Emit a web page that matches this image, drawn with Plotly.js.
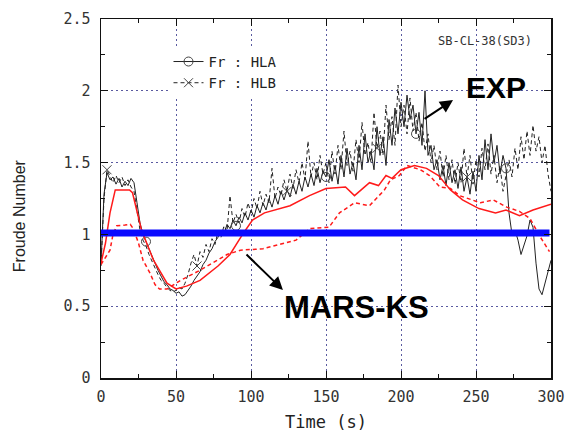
<!DOCTYPE html>
<html>
<head>
<meta charset="utf-8">
<script src="https://cdn.plot.ly/plotly-3.0.1.min.js"></script>
<style>
  html, body { margin: 0; padding: 0; background: #ffffff; }
  #chart { width: 571px; height: 432px; }
</style>
</head>
<body>
<div id="chart"></div>
<script>
// Froude number at the hot legs, test SB-CL-38 (SD3): experiment vs MARS-KS.

// Experimental records, sampled every 2 s from 0 to 300 s.
const EXP_STEP = 2;
const frHlaExp = [
  0.80,1.28,1.43,1.38,1.40,1.35,1.39,1.33,1.37,1.34,
  1.39,1.36,1.22,1.08,1.00,0.95,0.90,0.84,0.79,0.75,
  0.71,0.67,0.65,0.62,0.61,0.59,0.60,0.57,0.58,0.61,
  0.64,0.68,0.71,0.74,0.79,0.82,0.87,0.90,0.95,0.98,
  1.03,1.00,1.07,1.04,1.10,1.06,1.12,1.08,1.15,1.10,
  1.17,1.12,1.20,1.15,1.22,1.17,1.25,1.19,1.27,1.21,
  1.30,1.24,1.31,1.26,1.35,1.28,1.37,1.30,1.40,1.33,
  1.42,1.34,1.46,1.36,1.44,1.40,1.52,1.37,1.48,1.35,
  1.55,1.40,1.60,1.42,1.50,1.38,1.62,1.45,1.70,1.50,
  1.58,1.45,1.75,1.55,1.68,1.48,1.80,1.62,1.88,1.70,
  1.92,1.75,1.97,1.80,1.90,1.70,1.85,1.62,2.00,1.55,
  1.62,1.45,1.52,1.38,1.48,1.34,1.50,1.36,1.45,1.32,
  1.47,1.30,1.40,1.28,1.44,1.30,1.55,1.38,1.66,1.45,
  1.70,1.50,1.62,1.42,1.55,1.46,1.15,1.00,1.03,0.96,
  0.86,0.93,0.99,1.10,1.05,0.80,0.62,0.58,0.66,0.76,
  0.82
];
const frHlbExp = [
  0.78,1.25,1.45,1.40,1.36,1.41,1.36,1.40,1.34,1.38,
  1.33,1.30,1.15,1.03,0.96,0.92,0.86,0.81,0.76,0.72,
  0.68,0.66,0.63,0.61,0.60,0.61,0.63,0.62,0.66,0.72,
  0.80,0.86,0.78,0.88,0.84,0.93,0.88,0.97,0.93,1.02,
  0.98,1.06,1.02,1.27,1.08,1.14,1.08,1.18,1.12,1.22,
  1.15,1.25,1.18,1.30,1.20,1.28,1.22,1.46,1.25,1.33,
  1.27,1.38,1.30,1.42,1.32,1.45,1.36,1.50,1.38,1.65,
  1.40,1.50,1.38,1.55,1.42,1.50,1.36,1.58,1.42,1.62,
  1.45,1.72,1.48,1.58,1.44,1.66,1.50,1.78,1.55,1.64,
  1.50,1.85,1.60,1.72,1.55,1.90,1.66,1.82,1.62,2.04,
  1.75,1.90,1.70,1.95,1.72,1.85,1.65,1.78,1.58,1.70,
  1.50,1.62,1.45,1.58,1.40,1.55,1.38,1.52,1.35,1.50,
  1.36,1.60,1.40,1.55,1.35,1.52,1.40,1.60,1.45,1.63,
  1.42,1.55,1.36,1.48,1.30,1.42,1.52,1.40,1.60,1.45,
  1.68,1.52,1.72,1.55,1.76,1.58,1.68,1.50,1.62,1.42,
  1.30
];
const timeExp = frHlaExp.map((_, i) => i * EXP_STEP);

// Times carrying a symbol on each experimental curve.
const hlaSymbolTimes = [30, 90, 150, 210, 270];
const hlbSymbolTimes = [4, 64, 124, 184, 244];

// MARS-KS results.
const timeKsHla = [0,3,6,9.5,19,21,27,35,44,50,57,66,78,86,95,101,109,126,139,150,
                   163,169,179,185,190,194,200,209,217,225,233,241,252,263,270,279,288,298,300];
const frKsHla   = [0.80,0.94,1.15,1.31,1.31,1.29,1.03,0.82,0.66,0.62,0.64,0.68,0.78,0.86,1.01,1.10,1.15,1.20,1.27,1.32,
                   1.33,1.27,1.36,1.34,1.41,1.39,1.45,1.48,1.46,1.41,1.31,1.24,1.18,1.15,1.17,1.13,1.17,1.20,1.21];
const timeKsHlb = [0,6,8,10.5,16,19.5,21.5,25,28,32.7,36,39,44,53,66,84,93,108,119,130,139,152,
                   159,169,179,185,189,193,199,204,213,219,226,233,239,253,261.5,270.5,279,286,293,299];
const frKsHlb   = [0.79,0.89,1.00,1.06,1.065,1.07,1.04,0.94,0.82,0.73,0.65,0.62,0.62,0.68,0.75,0.86,0.89,0.90,0.93,0.96,1.04,1.05,
                   1.15,1.22,1.20,1.27,1.31,1.38,1.41,1.48,1.45,1.41,1.33,1.32,1.27,1.22,1.24,1.19,1.16,1.11,0.98,0.88];

// Reference level Fr = 1.
const frRefTime  = [0, 299];
const frRefValue = [1.01, 1.01];

const xTickVals = [0, 50, 100, 150, 200, 250, 300];
const yTickVals = [0, 0.5, 1, 1.5, 2, 2.5];
const yTickText = ['0', '0.5', '1', '1.5', '2', '2.5'];

function pickAt(times, series, symbolTimes) {
  const xs = [], ys = [];
  symbolTimes.forEach(t => {
    const i = times.indexOf(t);
    if (i >= 0) { xs.push(times[i]); ys.push(series[i]); }
  });
  return { x: xs, y: ys };
}

const MONO = '"DejaVu Sans Mono", "Liberation Mono", monospace';
const INK = '#222222';

const hlaSym = pickAt(timeExp, frHlaExp, hlaSymbolTimes);
const hlbSym = pickAt(timeExp, frHlbExp, hlbSymbolTimes);

const traces = [
  { x: timeExp, y: frHlbExp, type: 'scatter', mode: 'lines', showlegend: false, hoverinfo: 'skip',
    line: { color: INK, width: 1, dash: '4px,3px' } },
  { x: timeExp, y: frHlaExp, type: 'scatter', mode: 'lines', showlegend: false, hoverinfo: 'skip',
    line: { color: INK, width: 1 } },
  { x: hlaSym.x, y: hlaSym.y, type: 'scatter', mode: 'markers', showlegend: false,
    marker: { symbol: 'circle-open', size: 9, color: '#444', line: { width: 1 } } },
  { x: hlbSym.x, y: hlbSym.y, type: 'scatter', mode: 'markers', showlegend: false,
    marker: { symbol: 'x-thin-open', size: 9, color: '#444', line: { width: 1, color: '#444' } } },
  { x: timeKsHlb, y: frKsHlb, type: 'scatter', mode: 'lines', showlegend: false,
    line: { color: '#ff1a1a', width: 1.5, dash: '4px,3px' } },
  { x: timeKsHla, y: frKsHla, type: 'scatter', mode: 'lines', showlegend: false,
    line: { color: '#ff1a1a', width: 1.5 } },
  { x: frRefTime, y: frRefValue, type: 'scatter', mode: 'lines', showlegend: false,
    line: { color: '#0a0aff', width: 7 } },
  // legend entries
  { x: [null], y: [null], type: 'scatter', mode: 'lines+markers', name: 'Fr : HLA',
    line: { color: INK, width: 1 },
    marker: { symbol: 'circle-open', size: 9, color: '#444', line: { width: 1 } } },
  { x: [null], y: [null], type: 'scatter', mode: 'lines+markers', name: 'Fr : HLB',
    line: { color: INK, width: 1, dash: '4px,3px' },
    marker: { symbol: 'x-thin-open', size: 9, color: '#444', line: { width: 1, color: '#444' } } }
];

const axisCommon = {
  showline: true, mirror: 'ticks', linecolor: '#111', linewidth: 1.5,
  ticks: 'inside', ticklen: 7, tickwidth: 1, tickcolor: '#111',
  showgrid: true, gridcolor: '#5a5aa0', gridwidth: 1, griddash: '2px,3px',
  zeroline: false,
  tickfont: { family: MONO, size: 15, color: '#333' }
};

const layout = {
  width: 571, height: 432,
  margin: { l: 101, r: 20, t: 19, b: 54 },
  paper_bgcolor: '#ffffff', plot_bgcolor: '#ffffff',
  showlegend: true,
  legend: {
    x: 0.15, y: 0.925, xanchor: 'left', yanchor: 'top',
    bgcolor: '#ffffff', borderwidth: 0,
    font: { family: MONO, size: 14, color: INK },
    tracegroupgap: 0
  },
  xaxis: Object.assign({}, axisCommon, {
    range: [0, 300], tickvals: xTickVals, ticklabelstandoff: 4,
    minor: { dtick: 25, ticks: 'inside', ticklen: 4, tickcolor: '#111', showgrid: false },
    title: { text: 'Time (s)', font: { family: MONO, size: 17, color: INK }, standoff: 12 }
  }),
  yaxis: Object.assign({}, axisCommon, {
    range: [0, 2.5], tickvals: yTickVals, ticktext: yTickText, ticklabelstandoff: 6,
    minor: { dtick: 0.25, ticks: 'inside', ticklen: 4, tickcolor: '#111', showgrid: false }
  }),
  annotations: [
    { text: 'Froude Number', xref: 'paper', yref: 'paper', x: -0.182, y: 0.451,
      xanchor: 'center', yanchor: 'middle',
      textangle: -90, showarrow: false,
      font: { family: '"Liberation Sans", Arial, sans-serif', size: 16, color: INK } },
    { text: 'SB-CL-38(SD3)', xref: 'x', yref: 'y', x: 256, y: 2.35, showarrow: false,
      font: { family: MONO, size: 12, color: '#333' } },
    { text: '<b>EXP</b>', xref: 'x', yref: 'y', x: 263, y: 2.02, showarrow: false,
      font: { family: '"Liberation Sans", Arial, sans-serif', size: 30, color: '#000' } },
    { text: '<b>MARS-KS</b>', xref: 'x', yref: 'y', x: 170, y: 0.49, showarrow: false,
      font: { family: '"Liberation Sans", Arial, sans-serif', size: 31, color: '#000' } },
    { text: '', xref: 'x', yref: 'y', x: 234.7, y: 1.936, axref: 'x', ayref: 'y', ax: 214.7, ay: 1.797,
      showarrow: true, arrowhead: 2, arrowsize: 1.3, arrowwidth: 2, arrowcolor: '#000' },
    { text: '', xref: 'x', yref: 'y', x: 121.3, y: 0.613, axref: 'x', ayref: 'y', ax: 96, ay: 0.87,
      showarrow: true, arrowhead: 2, arrowsize: 1.3, arrowwidth: 2, arrowcolor: '#000' }
  ]
};

Plotly.newPlot('chart', traces, layout, { displayModeBar: false, staticPlot: true });
</script>
</body>
</html>
